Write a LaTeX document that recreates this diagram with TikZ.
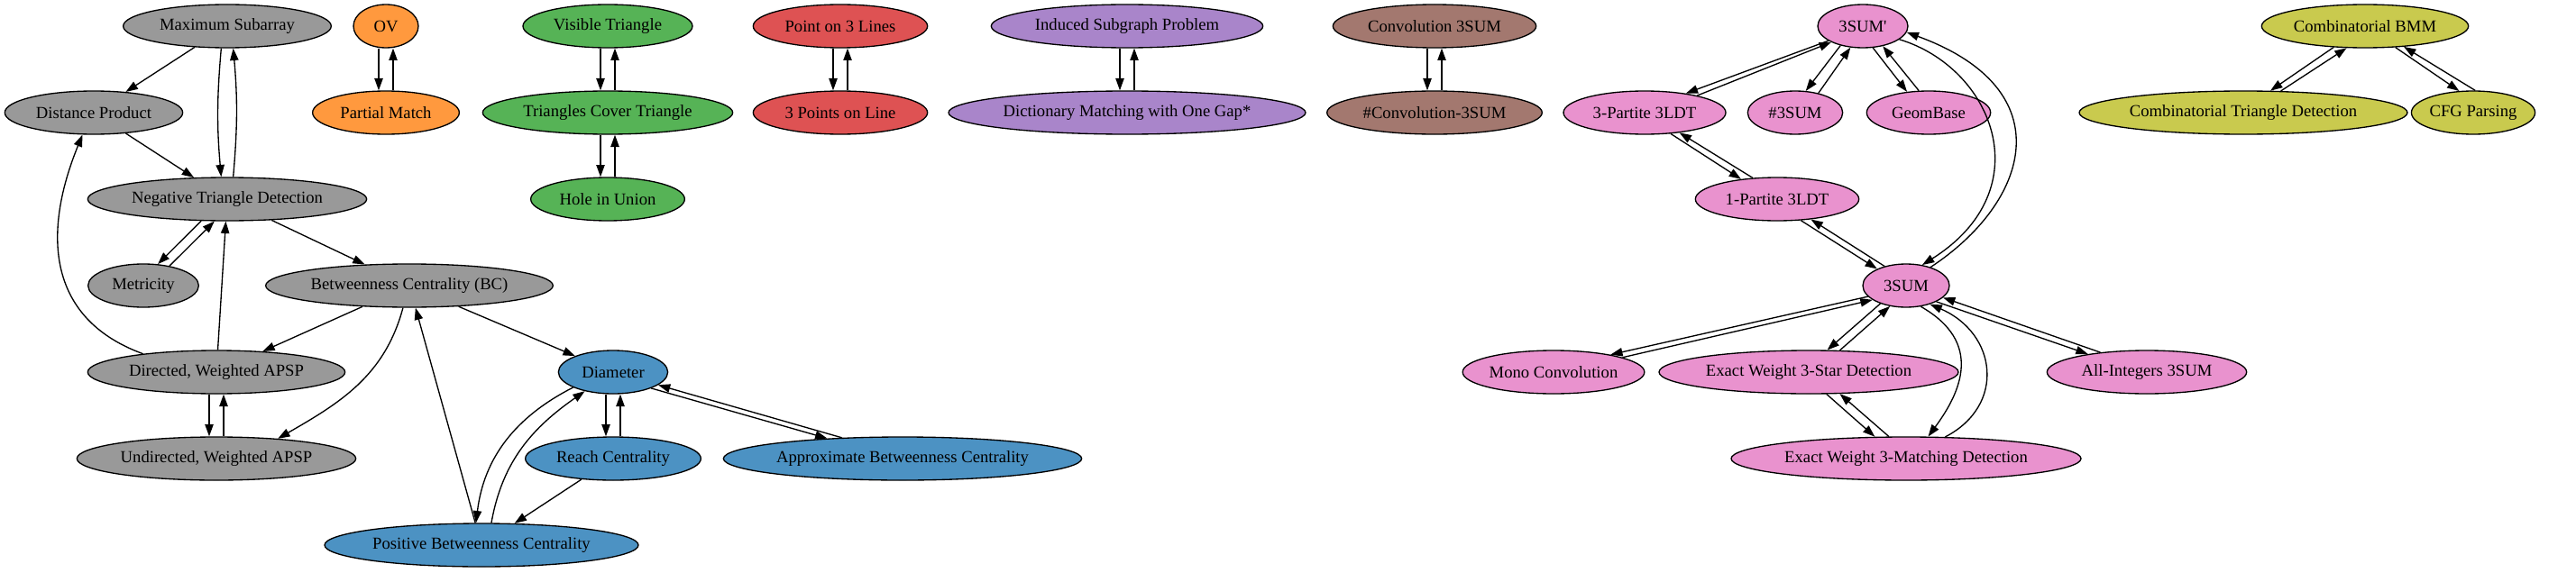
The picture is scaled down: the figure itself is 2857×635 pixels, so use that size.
\documentclass[tikz,border=0pt]{standalone}
\usepackage{fontspec}
\setmainfont{Liberation Serif}
\usetikzlibrary{shapes.geometric,arrows.meta}
\definecolor{cgray}{HTML}{999999}
\definecolor{corange}{HTML}{FF993E}
\definecolor{cgreen}{HTML}{56B356}
\definecolor{cred}{HTML}{DE5253}
\definecolor{cpurple}{HTML}{A985CA}
\definecolor{cbrown}{HTML}{A3786F}
\definecolor{cpink}{HTML}{E992CE}
\definecolor{colive}{HTML}{C9CA4E}
\definecolor{cblue}{HTML}{4C92C3}
\tikzset{
  prob/.style={ellipse, draw, line width=1pt, minimum height=36pt, inner sep=0pt,
    font=\fontsize{14}{16}\selectfont},
  rel/.style={-{Triangle[length=10pt,width=7pt]}, line width=1pt}
}
\begin{document}
\begin{tikzpicture}[x=0.75pt,y=0.75pt]
\useasboundingbox (0,0) rectangle (2857,-635);
% gray: shortest paths
\node[prob, fill=cgray, minimum width=173pt] (maxsub) at (252,-29) {Maximum Subarray};
\node[prob, fill=cgray, minimum width=148pt] (distprod) at (104,-125) {Distance Product};
\node[prob, fill=cgray, minimum width=232pt] (ntd) at (252,-221) {Negative Triangle Detection};
\node[prob, fill=cgray, minimum width=92pt] (metric) at (159,-317) {Metricity};
\node[prob, fill=cgray, minimum width=239pt] (bc) at (454,-317) {Betweenness Centrality (BC)};
\node[prob, fill=cgray, minimum width=214pt] (dapsp) at (240,-413) {Directed, Weighted APSP};
\node[prob, fill=cgray, minimum width=232pt] (uapsp) at (240,-509) {Undirected, Weighted APSP};
% blue
\node[prob, fill=cblue, minimum width=91pt] (diam) at (680,-413) {Diameter};
\node[prob, fill=cblue, minimum width=146pt] (reach) at (680,-509) {Reach Centrality};
\node[prob, fill=cblue, minimum width=298pt] (abc) at (1001,-509) {Approximate Betweenness Centrality};
\node[prob, fill=cblue, minimum width=261pt] (pbc) at (534,-605) {Positive Betweenness Centrality};
% orange
\node[prob, fill=corange, minimum width=54pt] (ov) at (428,-29) {OV};
\node[prob, fill=corange, minimum width=122pt] (pm) at (428,-125) {Partial Match};
% green
\node[prob, fill=cgreen, minimum width=141pt] (vis) at (674,-29) {Visible Triangle};
\node[prob, fill=cgreen, minimum width=208pt] (tct) at (674,-125) {Triangles Cover Triangle};
\node[prob, fill=cgreen, minimum width=128pt] (hole) at (674,-221) {Hole in Union};
% red
\node[prob, fill=cred, minimum width=145pt] (pthree) at (932,-29) {Point on 3 Lines};
\node[prob, fill=cred, minimum width=145pt] (threep) at (932,-125) {3 Points on Line};
% purple
\node[prob, fill=cpurple, minimum width=226pt] (isp) at (1250,-29) {Induced Subgraph Problem};
\node[prob, fill=cpurple, minimum width=297pt] (dmg) at (1250,-125) {Dictionary Matching with One Gap*};
% brown
\node[prob, fill=cbrown, minimum width=169pt] (conv) at (1591,-29) {Convolution 3SUM};
\node[prob, fill=cbrown, minimum width=179pt] (nconv) at (1591,-125) {\#Convolution-3SUM};
% pink: 3SUM family
\node[prob, fill=cpink, minimum width=75pt] (tsp) at (2066,-29) {3SUM\textquotesingle};
\node[prob, fill=cpink, minimum width=135pt] (tpart) at (1824,-125) {3-Partite 3LDT};
\node[prob, fill=cpink, minimum width=79pt] (nsum) at (1991,-125) {\#3SUM};
\node[prob, fill=cpink, minimum width=103pt] (geom) at (2139,-125) {GeomBase};
\node[prob, fill=cpink, minimum width=136pt] (opart) at (1971,-221) {1-Partite 3LDT};
\node[prob, fill=cpink, minimum width=72pt] (tsum) at (2114,-317) {3SUM};
\node[prob, fill=cpink, minimum width=138pt] (mono) at (1723,-413) {Mono Convolution};
\node[prob, fill=cpink, minimum width=249pt] (star) at (2006,-413) {Exact Weight 3-Star Detection};
\node[prob, fill=cpink, minimum width=166pt] (allint) at (2381,-413) {All-Integers 3SUM};
\node[prob, fill=cpink, minimum width=291pt] (match) at (2114,-509) {Exact Weight 3-Matching Detection};
% olive
\node[prob, fill=colive, minimum width=172pt] (bmm) at (2623,-29) {Combinatorial BMM};
\node[prob, fill=colive, minimum width=273pt] (ctd) at (2488,-125) {Combinatorial Triangle Detection};
\node[prob, fill=colive, minimum width=96pt] (cfg) at (2743,-125) {CFG Parsing};

% gray edges
\draw[rel] (maxsub) -- (distprod);
\draw[rel] ([xshift=-5pt]maxsub.south) to[bend right=5] ([xshift=-5pt]ntd.north);
\draw[rel] ([xshift=5pt]ntd.north) to[bend right=5] ([xshift=5pt]maxsub.south);
\draw[rel] (distprod) -- (ntd);
\draw[rel] (ntd.220) -- (metric.56);
\draw[rel] (metric.37) -- (ntd.240);
\draw[rel] (dapsp) -- (ntd);
\draw[rel] (dapsp.166) .. controls (50,-353) and (48,-256) .. (distprod.243);
\draw[rel] (ntd) -- (bc);
\draw[rel] (bc) -- (dapsp);
\draw[rel] (bc.254) to[out=255,in=30] (uapsp.18);
\draw[rel] ([xshift=-6pt]dapsp.south) -- ([xshift=-6pt]uapsp.north);
\draw[rel] ([xshift=6pt]uapsp.north) -- ([xshift=6pt]dapsp.south);
\draw[rel] (bc) -- (diam);
\draw[rel] (pbc) -- (bc);
% blue edges
\draw[rel] (diam.201) to[out=207,in=83] (pbc.104);
\draw[rel] (pbc.66) to[out=80,in=215] (diam.214);
\draw[rel] ([xshift=-6pt]diam.south) -- ([xshift=-6pt]reach.north);
\draw[rel] ([xshift=6pt]reach.north) -- ([xshift=6pt]diam.south);
\draw[rel] (diam.337) -- (abc.165);
\draw[rel] (abc.161) -- (diam.344);
\draw[rel] (reach) -- (pbc);
% small pairs
\draw[rel] ([xshift=-6pt]ov.south) -- ([xshift=-6pt]pm.north);
\draw[rel] ([xshift=6pt]pm.north) -- ([xshift=6pt]ov.south);
\draw[rel] ([xshift=-6pt]vis.south) -- ([xshift=-6pt]tct.north);
\draw[rel] ([xshift=6pt]tct.north) -- ([xshift=6pt]vis.south);
\draw[rel] ([xshift=-6pt]tct.south) -- ([xshift=-6pt]hole.north);
\draw[rel] ([xshift=6pt]hole.north) -- ([xshift=6pt]tct.south);
\draw[rel] ([xshift=-6pt]pthree.south) -- ([xshift=-6pt]threep.north);
\draw[rel] ([xshift=6pt]threep.north) -- ([xshift=6pt]pthree.south);
\draw[rel] ([xshift=-6pt]isp.south) -- ([xshift=-6pt]dmg.north);
\draw[rel] ([xshift=6pt]dmg.north) -- ([xshift=6pt]isp.south);
\draw[rel] ([xshift=-6pt]conv.south) -- ([xshift=-6pt]nconv.north);
\draw[rel] ([xshift=6pt]nconv.north) -- ([xshift=6pt]conv.south);
% pink edges
\draw[rel] (tsp.203) -- (tpart.25);
\draw[rel] (tpart.18) -- (tsp.207);
\draw[rel] (tsp.221) -- (nsum.64);
\draw[rel] (nsum.40) -- (tsp.240);
\draw[rel] (tsp.295) -- (geom.136);
\draw[rel] (geom.114) -- (tsp.315);
\draw[rel] (tsp.340) .. controls (2210,-75) and (2265,-210) .. (tsum.52);
\draw[rel] (tsum.37) .. controls (2250,-225) and (2290,-100) .. (tsp.352);
\draw[rel] (tpart.321) -- (opart.151);
\draw[rel] (opart.139) -- (tpart.330);
\draw[rel] (opart.318) -- (tsum.150);
\draw[rel] (tsum.138) -- (opart.329);
\draw[rel] (tsum.196) -- (mono.17);
\draw[rel] (mono.12) -- (tsum.203);
\draw[rel] (tsum.215) -- (star.50);
\draw[rel] (star.35) -- (tsum.232);
\draw[rel] (tsum.305) .. controls (2200,-380) and (2175,-435) .. (match.45);
\draw[rel] (match.29) .. controls (2225,-450) and (2215,-370) .. (tsum.322);
\draw[rel] (tsum.332) -- (allint.163);
\draw[rel] (allint.157) -- (tsum.342);
\draw[rel] (star.309) -- (match.145);
\draw[rel] (match.128) -- (star.325);
% olive edges
\draw[rel] (bmm.214) -- (ctd.39);
\draw[rel] (ctd.30) -- (bmm.230);
\draw[rel] (bmm.325) -- (cfg.123);
\draw[rel] (cfg.85) -- (bmm.332);
\end{tikzpicture}
\end{document}
